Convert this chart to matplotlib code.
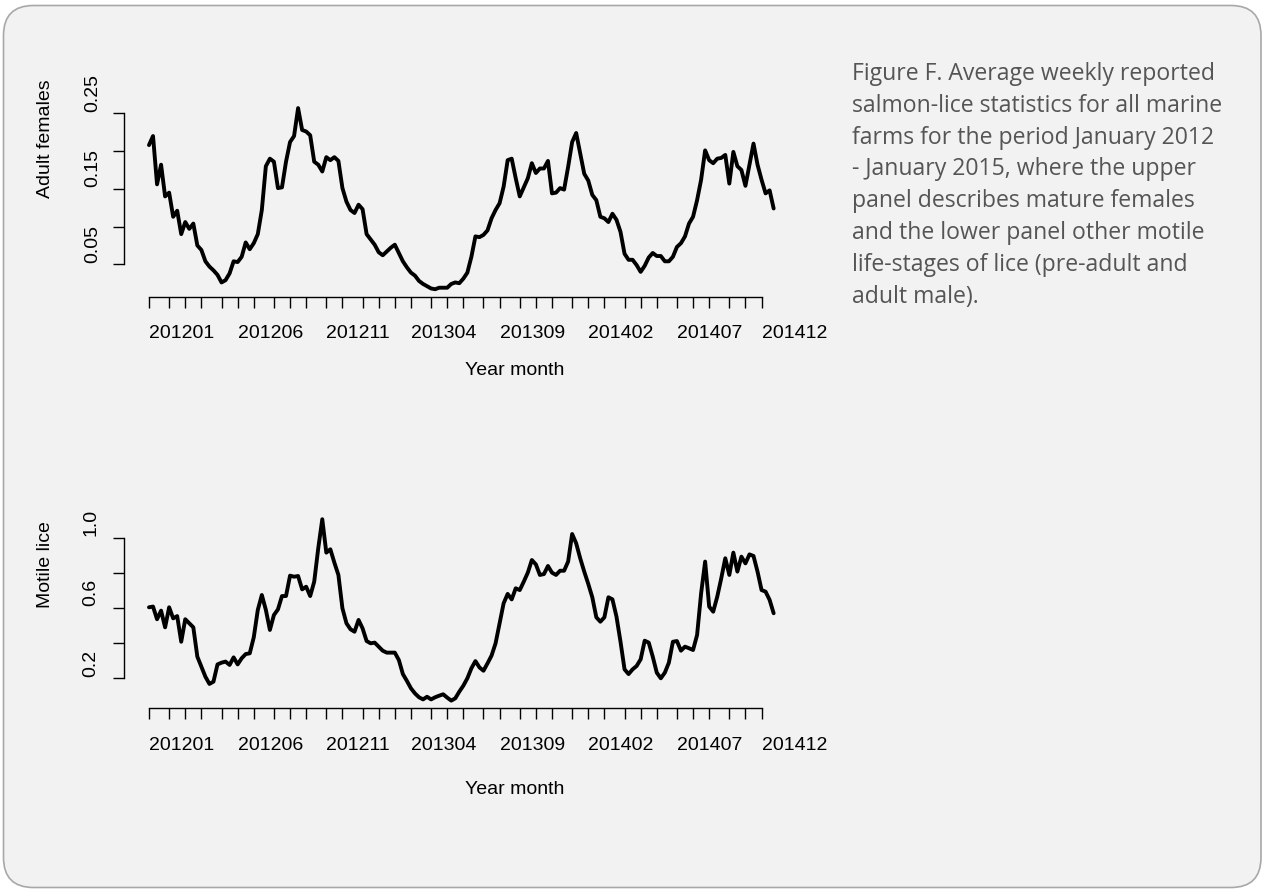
import matplotlib
matplotlib.use("Agg")
import matplotlib.pyplot as plt
from matplotlib.patches import FancyBboxPatch
import numpy as np
import pandas as pd

# ---------------------------------------------------------------- data
adult_females = [
    0.208, 0.220, 0.156, 0.182, 0.140, 0.145, 0.113, 0.121, 0.090, 0.106,
    0.097, 0.104, 0.075, 0.069, 0.054, 0.047, 0.042, 0.036, 0.026, 0.029,
    0.038, 0.054, 0.053, 0.060, 0.079, 0.070, 0.078, 0.090, 0.122, 0.180,
    0.190, 0.186, 0.151, 0.152, 0.186, 0.212, 0.220, 0.257, 0.228, 0.226,
    0.221, 0.186, 0.182, 0.173, 0.192, 0.188, 0.192, 0.187, 0.151, 0.133,
    0.122, 0.118, 0.129, 0.123, 0.090, 0.083, 0.076, 0.066, 0.062, 0.067,
    0.072, 0.076, 0.065, 0.054, 0.046, 0.039, 0.035, 0.028, 0.024, 0.021,
    0.018, 0.017, 0.019, 0.019, 0.019, 0.024, 0.026, 0.025, 0.031, 0.039,
    0.060, 0.087, 0.086, 0.089, 0.095, 0.111, 0.122, 0.131, 0.153, 0.188,
    0.190, 0.164, 0.140, 0.152, 0.164, 0.184, 0.171, 0.177, 0.177, 0.187,
    0.144, 0.145, 0.151, 0.149, 0.179, 0.212, 0.224, 0.197, 0.170, 0.161,
    0.142, 0.135, 0.113, 0.111, 0.106, 0.117, 0.109, 0.093, 0.064, 0.056,
    0.056, 0.049, 0.040, 0.048, 0.059, 0.065, 0.061, 0.061, 0.054, 0.054,
    0.060, 0.073, 0.078, 0.087, 0.104, 0.113, 0.135, 0.162, 0.201, 0.188,
    0.184, 0.190, 0.191, 0.195, 0.157, 0.199, 0.180, 0.175, 0.154, 0.182,
    0.210, 0.182, 0.162, 0.144, 0.148, 0.124,
]

motile_lice = [
    0.604, 0.608, 0.536, 0.585, 0.490, 0.604, 0.541, 0.554, 0.408, 0.536,
    0.513, 0.490, 0.323, 0.266, 0.209, 0.168, 0.181, 0.279, 0.289, 0.295,
    0.276, 0.319, 0.279, 0.314, 0.338, 0.342, 0.433, 0.589, 0.674, 0.589,
    0.475, 0.560, 0.592, 0.668, 0.668, 0.784, 0.778, 0.782, 0.706, 0.721,
    0.668, 0.750, 0.940, 1.105, 0.915, 0.934, 0.858, 0.788, 0.598, 0.513,
    0.479, 0.465, 0.532, 0.484, 0.412, 0.399, 0.403, 0.380, 0.357, 0.346,
    0.346, 0.346, 0.304, 0.224, 0.185, 0.143, 0.114, 0.092, 0.080, 0.095,
    0.080, 0.092, 0.101, 0.109, 0.090, 0.073, 0.086, 0.124, 0.158, 0.200,
    0.257, 0.298, 0.262, 0.243, 0.285, 0.329, 0.399, 0.513, 0.627, 0.680,
    0.649, 0.712, 0.702, 0.750, 0.801, 0.873, 0.848, 0.788, 0.793, 0.839,
    0.801, 0.788, 0.812, 0.812, 0.864, 1.021, 0.968, 0.883, 0.807, 0.737,
    0.661, 0.547, 0.522, 0.547, 0.661, 0.649, 0.551, 0.408, 0.251, 0.224,
    0.251, 0.270, 0.308, 0.414, 0.403, 0.323, 0.232, 0.200, 0.232, 0.289,
    0.408, 0.412, 0.357, 0.380, 0.371, 0.361, 0.446, 0.683, 0.864, 0.608,
    0.579, 0.664, 0.769, 0.883, 0.788, 0.915, 0.807, 0.892, 0.854, 0.905,
    0.896, 0.807, 0.702, 0.693, 0.646, 0.570,
]

first_week = "2012-01-02"
month_labels = ["201201", "201206", "201211", "201304",
                "201309", "201402", "201407", "201412"]
label_every = 5

adult_ticks = [0.05, 0.10, 0.15, 0.20, 0.25]
adult_ticklabels = ["0.05", "", "0.15", "", "0.25"]
motile_ticks = [0.2, 0.4, 0.6, 0.8, 1.0]
motile_ticklabels = ["0.2", "", "0.6", "", "1.0"]

caption_lines = [
    "Figure F. Average weekly reported",
    "salmon-lice statistics for all marine",
    "farms for the period January 2012",
    "- January 2015, where the upper",
    "panel describes mature females",
    "and the lower panel other motile",
    "life-stages of lice (pre-adult and",
    "adult male).",
]

# ---------------------------------------------------------------- setup
W, H = 1262, 889
fig = plt.figure(figsize=(W / 100, H / 100), dpi=100)
fig.patch.set_facecolor("white")

LABEL_FONT = ["Liberation Sans", "DejaVu Sans"]
FS = 14

# rounded card behind everything, with the caption
bg = fig.add_axes([0, 0, 1, 1])
bg.set_xlim(0, W)
bg.set_ylim(H, 0)
bg.axis("off")
bg.add_patch(FancyBboxPatch((3.5, 5.5), W - 4.5, H - 7.0,
                            boxstyle="round,pad=0,rounding_size=30",
                            fc="#f2f2f2", ec="#a8a8a8", lw=1.2))
for k, line in enumerate(caption_lines):
    bg.text(852, 80 + 31.8 * k, line, family=["Open Sans", "DejaVu Sans"],
            fontsize=16.6, color="#555555", ha="left", va="baseline")

# weekly index and monthly tick positions
weeks = pd.date_range(first_week, periods=len(adult_females), freq="7D")
idx = np.arange(len(weeks))
months = weeks.to_period("M")
tick_idx = idx[~months.duplicated()]


def panel(top_px, bottom_px, ylim, values, yticks, yticklabels, ylabel,
          ylabel_center, xlab_y, xtitle_y, ylab_x):
    left_px, right_px = 124.0, 793.8
    ax = fig.add_axes([left_px / W, 1 - bottom_px / H,
                       (right_px - left_px) / W, (bottom_px - top_px) / H])
    ax.set_facecolor("none")
    ax.set_xlim(-6.2, 160)
    ax.set_ylim(*ylim)
    ax.plot(idx, values, color="black", lw=2.8,
            solid_joinstyle="round", solid_capstyle="round", clip_on=False)

    for s in ("top", "right"):
        ax.spines[s].set_visible(False)
    ax.spines["left"].set_bounds(yticks[0], yticks[-1])
    ax.spines["bottom"].set_bounds(tick_idx[0], tick_idx[-1])
    for s in ("left", "bottom"):
        ax.spines[s].set_linewidth(1.0)
        ax.spines[s].set_color("black")

    ax.set_yticks(yticks)
    ax.set_xticks(tick_idx)
    ax.set_yticklabels([])
    ax.set_xticklabels([])
    ax.tick_params(direction="out", length=7.7, width=1.0, color="black")

    # y tick labels: rotated, starting at their tick
    for v, lab in zip(yticks, yticklabels):
        if lab:
            ax.annotate(lab, xy=(ylab_x, v), xycoords=("figure pixels", "data"),
                        xytext=(0, 1.5), textcoords="offset pixels",
                        rotation=90, ha="center", va="bottom",
                        family=LABEL_FONT, fontsize=FS, annotation_clip=False)

    # x tick labels: every fifth month, starting at their tick
    for j, lab in enumerate(month_labels):
        ax.annotate(lab, xy=(tick_idx[j * label_every], H - xlab_y),
                    xycoords=("data", "figure pixels"),
                    ha="left", va="center", family=LABEL_FONT, fontsize=FS,
                    annotation_clip=False)

    fig.text(515 / W, 1 - xtitle_y / H, "Year month", ha="center", va="center",
             family=LABEL_FONT, fontsize=FS)
    fig.text(45 / W, 1 - ylabel_center / H, ylabel, rotation=90,
             ha="center", va="center", family=LABEL_FONT, fontsize=FS)
    return ax


panel(90.0, 297.0, (0.0067, 0.281), adult_females, adult_ticks,
      adult_ticklabels, "Adult females", 139, 333, 371, 93)
panel(505.0, 708.0, (0.031, 1.186), motile_lice, motile_ticks,
      motile_ticklabels, "Motile lice", 565, 746, 790, 91)

fig.savefig("out.png", dpi=100, facecolor="white")
